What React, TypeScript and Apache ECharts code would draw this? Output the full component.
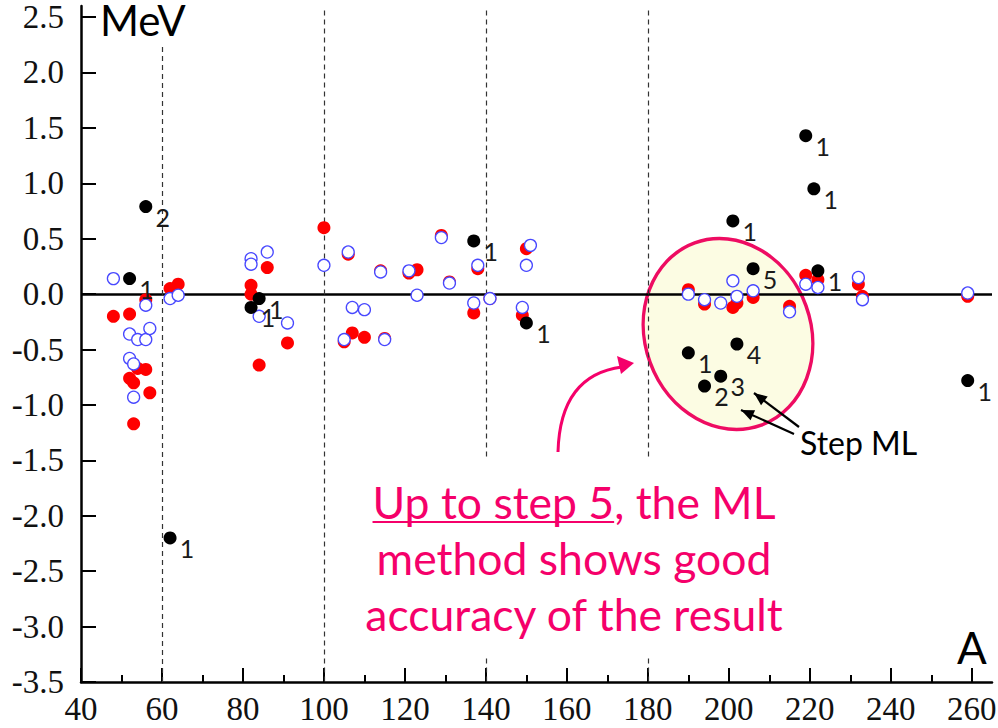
import { useEffect, useRef } from 'react';
import * as echarts from 'echarts';

// Mass number A vs. deviation (MeV)
const redPoints: [number, number][] = [
  [48, -0.2], [52, -0.18], [56, -0.05], [54, -0.67], [56, -0.68], [52, -0.76], [53, -0.8], [57, -0.89], [53, -1.17],
  [62, 0.05], [64, 0.09],
  [82, 0.08], [82, 0.0], [86, 0.24], [84, -0.64], [91, -0.44],
  [100, 0.6], [106, 0.36], [107, -0.35], [110, -0.39], [105, -0.43], [115, -0.4], [114, 0.21], [121, 0.19], [123, 0.22],
  [129, 0.53], [131, 0.11], [138, 0.23], [137, -0.17], [141, -0.04], [150, 0.41], [149, -0.19],
  [190, 0.04], [194, -0.09], [201, -0.12], [202, -0.08], [206, -0.03], [215, -0.11], [219, 0.17], [222, 0.13],
  [232, 0.09], [233, -0.02], [259, -0.02],
];

const bluePoints: [number, number][] = [
  [48, 0.14], [56, -0.1], [52, -0.36], [54, -0.41], [56, -0.41], [57, -0.31], [52, -0.58], [53, -0.63], [53, -0.93],
  [62, -0.04], [64, -0.01],
  [82, 0.32], [82, 0.27], [86, 0.38], [84, -0.2], [91, -0.26],
  [100, 0.26], [106, 0.38], [107, -0.12], [110, -0.14], [105, -0.41], [115, -0.41], [114, 0.2], [121, 0.21], [123, -0.01],
  [129, 0.51], [131, 0.1], [138, 0.26], [137, -0.08], [141, -0.04], [151, 0.44], [150, 0.26], [149, -0.12],
  [190, 0.0], [194, -0.05], [198, -0.08], [201, 0.12], [202, -0.02], [206, 0.03], [215, -0.16], [219, 0.09], [222, 0.06],
  [232, 0.15], [233, -0.05], [259, 0.01],
];

const mlPoints: [number, number][] = [
  [52, 0.14], [56, 0.79], [62, -2.2], [82, -0.12], [84, -0.04], [137, 0.48], [150, -0.26],
  [190, -0.53], [194, -0.83], [198, -0.74], [202, -0.45], [206, 0.23],
  [201, 0.66], [219, 1.43], [221, 0.95], [222, 0.21], [259, -0.78],
];
const mlStepLabels: string[] = ['1', '2', '1', '1', '1', '1', '1', '1', '2', '3', '4', '5', '1', '1', '1', '1', '1'];

const yTickValues = [-3.5, -3, -2.5, -2, -1.5, -1, -0.5, 0, 0.5, 1, 1.5, 2, 2.5];
const xTickValues = [40, 60, 80, 100, 120, 140, 160, 180, 200, 220, 240, 260];
const xMinorTickValues = [50, 70, 90, 110, 130, 150, 170, 190, 210, 230, 250];

// vertical dashed dividers: [A, top of line in MeV]
const dividers: [number, number][] = [[60, 2.23], [100, 2.56], [140, 2.56], [180, 2.56]];

const noteLines = ['Up to step 5, the ML', 'method shows good', 'accuracy of the result'];
const noteUnderlined = 'Up to step 5';

const PINK = '#f5006a';

function arrowHead(tail: number[], tip: number[], len: number, half: number): number[][] {
  const dx = tip[0] - tail[0];
  const dy = tip[1] - tail[1];
  const d = Math.hypot(dx, dy);
  const ux = dx / d, uy = dy / d;
  const bx = tip[0] - ux * len, by = tip[1] - uy * len;
  return [tip, [bx - uy * half, by + ux * half], [bx + uy * half, by - ux * half]];
}

function measure(text: string, font: string): number {
  const ctx = document.createElement('canvas').getContext('2d');
  if (!ctx) return text.length * 20;
  ctx.font = font;
  return ctx.measureText(text).width;
}

export default function App() {
  const ref = useRef<HTMLDivElement>(null);

  useEffect(() => {
    const chart = echarts.init(ref.current!, null, { renderer: 'svg' });
    const serif = '"Liberation Serif", "Times New Roman", serif';
    const sans = 'Lato, "Liberation Sans", sans-serif';
    const noteFont = `44.5px ${sans}`;
    const noteX = 574;

    const lineW = measure(noteLines[0], noteFont);
    const underW = measure(noteUnderlined, noteFont);
    const ulStart = noteX - lineW / 2;

    const stepArrows = [
      { tail: [799, 427], tip: [754, 393] },
      { tail: [794, 434], tip: [741, 410] },
    ];

    const graphics: any[] = [
      {
        type: 'ellipse', x: 728, y: 334, rotation: 0.35,
        shape: { cx: 0, cy: 0, rx: 83, ry: 97 },
        style: { fill: '#fcfce3', stroke: '#ee0c62', lineWidth: 3.5 },
        z: 0,
      },
      { type: 'rect', shape: { x: 350, y: 459, width: 450, height: 199 }, style: { fill: '#fff' }, z: 50 },
      ...noteLines.map((t, i) => ({
        type: 'text', x: noteX, y: 501 + i * 56, z: 51,
        style: { text: t, fill: PINK, font: noteFont, textAlign: 'center', textVerticalAlign: 'middle' },
      })),
      {
        type: 'line', z: 51,
        shape: { x1: ulStart, y1: 522, x2: ulStart + underW, y2: 522 },
        style: { stroke: PINK, lineWidth: 2 },
      },
      {
        type: 'bezierCurve', shape: { x1: 558, y1: 452, cpx1: 560, cpy1: 375, x2: 622, y2: 367 },
        style: { stroke: PINK, lineWidth: 3, fill: 'none' }, z: 51,
      },
      { type: 'polygon', shape: { points: [[634, 363], [617, 356], [621, 374]] }, style: { fill: PINK }, z: 51 },
      {
        type: 'text', x: 100, y: 20, z: 51,
        style: {
          text: 'MeV', fill: '#000', font: `42px ${sans}`, lineHeight: 36,
          textAlign: 'left', textVerticalAlign: 'middle',
        },
      },
      {
        type: 'text', x: 972, y: 647, z: 51,
        style: { text: 'A', fill: '#000', font: `44px ${sans}`, textAlign: 'center', textVerticalAlign: 'middle' },
      },
      {
        type: 'text', x: 800, y: 442, z: 51,
        style: { text: 'Step ML', fill: '#000', font: `32px ${sans}`, textAlign: 'left', textVerticalAlign: 'middle' },
      },
      ...stepArrows.flatMap((a) => [
        {
          type: 'line', z: 51,
          shape: { x1: a.tail[0], y1: a.tail[1], x2: a.tip[0], y2: a.tip[1] },
          style: { stroke: '#000', lineWidth: 2.2 },
        },
        { type: 'polygon', z: 52, shape: { points: arrowHead(a.tail, a.tip, 13, 5.5) }, style: { fill: '#000' } },
      ]),
    ];

    chart.setOption({
      animation: false,
      backgroundColor: '#fff',
      grid: { left: 81, right: 6, top: 6, bottom: 46, containLabel: false, outerBoundsMode: 'none' },
      xAxis: [
        {
          type: 'value', min: 40, max: 265, position: 'bottom',
          axisLine: { show: true, onZero: false, lineStyle: { color: '#000', width: 2.5 } },
          axisTick: { show: true, inside: true, length: 14, customValues: xTickValues, lineStyle: { color: '#000', width: 2 } },
          axisLabel: { customValues: xTickValues, margin: 10, color: '#111', fontSize: 33, fontFamily: serif },
          splitLine: { show: false },
        },
        {
          type: 'value', min: 40, max: 265, position: 'bottom',
          axisLine: { show: false, onZero: false },
          axisTick: { show: true, inside: true, length: 7, customValues: xMinorTickValues, lineStyle: { color: '#000', width: 2 } },
          axisLabel: { show: false },
          splitLine: { show: false },
        },
      ],
      yAxis: {
        type: 'value', min: -3.5, max: 2.6,
        axisLine: { show: true, onZero: false, lineStyle: { color: '#000', width: 2.5 } },
        axisTick: { show: true, inside: true, length: 15, customValues: yTickValues, lineStyle: { color: '#000', width: 2 } },
        axisLabel: {
          customValues: yTickValues, margin: 17, color: '#111', fontSize: 33, fontFamily: serif,
          formatter: (v: number) => v.toFixed(1),
        },
        splitLine: { show: false },
      },
      series: [
        {
          type: 'scatter', data: [], z: 1, silent: true,
          markLine: {
            silent: true, symbol: 'none', z: 1, animation: false, label: { show: false },
            data: [
              [{ coord: [40, 0], lineStyle: { color: '#000', width: 2.5, type: 'solid' } }, { coord: [265, 0] }],
              ...dividers.map(([a, top]) => [
                { coord: [a, top], lineStyle: { color: '#333', width: 1.2, type: [5, 4] } },
                { coord: [a, -3.5] },
              ]),
            ],
          },
        },
        {
          type: 'scatter', data: redPoints, symbolSize: 13, z: 10,
          itemStyle: { color: '#ff0000', opacity: 1 },
        },
        {
          type: 'scatter', data: bluePoints, symbolSize: 12, z: 11,
          itemStyle: { color: '#fff', borderColor: '#4848ff', borderWidth: 1.3, opacity: 1 },
        },
        {
          type: 'scatter', data: mlPoints, symbolSize: 13, z: 12,
          itemStyle: { color: '#000', opacity: 1 },
          label: {
            show: true, position: 'inside', offset: [17, 10],
            formatter: (p: any) => mlStepLabels[p.dataIndex],
            color: '#1a1a1a', fontSize: 25, fontFamily: sans,
          },
        },
      ],
      graphic: graphics,
    });

    return () => chart.dispose();
  }, []);

  return <div ref={ref} style={{ position: 'fixed', left: 0, top: 0, width: 998, height: 728 }} />;
}
